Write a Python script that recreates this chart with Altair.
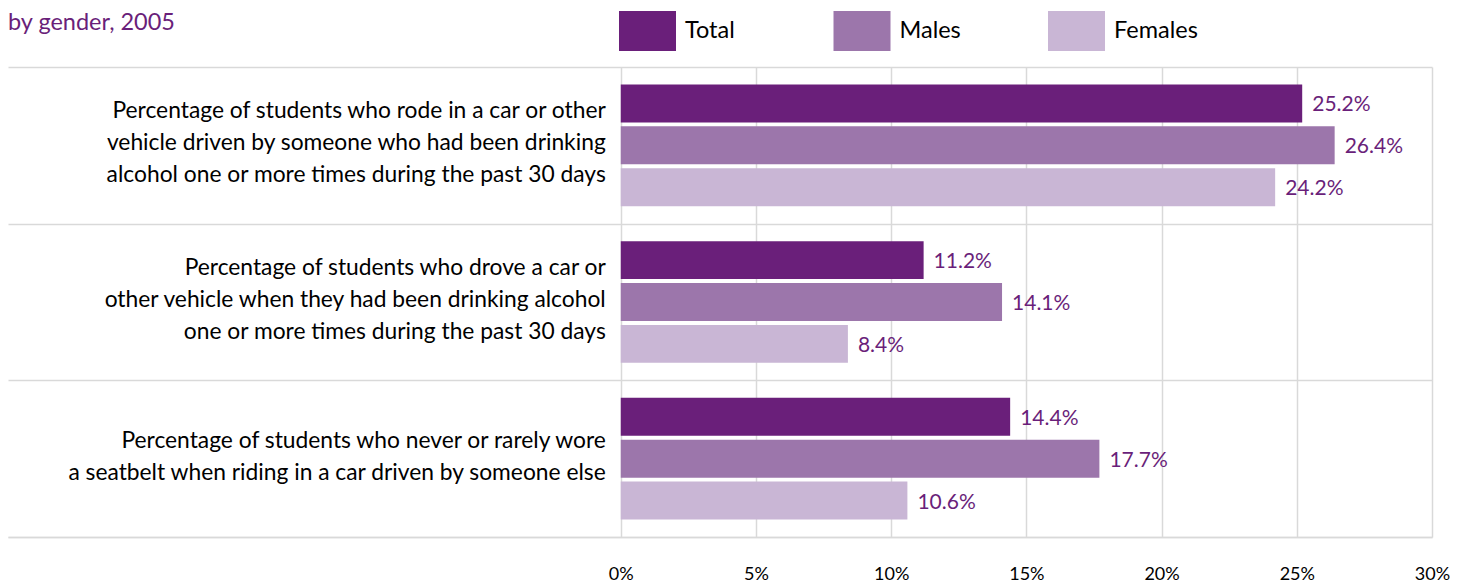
import altair as alt
import pandas as pd

questions = [
    "Percentage of students who rode in a car or other\nvehicle driven by someone who had been drinking\nalcohol one or more times during the past 30 days",
    "Percentage of students who drove a car or\nother vehicle when they had been drinking alcohol\none or more times during the past 30 days",
    "Percentage of students who never or rarely wore\na seatbelt when riding in a car driven by someone else",
]
series = ["Total", "Males", "Females"]
total = [25.2, 11.2, 14.4]
males = [26.4, 14.1, 17.7]
females = [24.2, 8.4, 10.6]
colors = ["#6a1f7a", "#9c76ab", "#c9b6d5"]
tick_values = [0, 5, 10, 15, 20, 25, 30]

PURPLE = "#6a1f7a"
GRID = "#d9d9d9"
FONT = "Lato"
LINE_H = 32

rows = []
for qi, q in enumerate(questions):
    for s, vals in zip(series, [total, males, females]):
        rows.append({"question": q, "series": s, "value": vals[qi]})
df = pd.DataFrame(rows)
qdf = pd.DataFrame({"question": questions,
                    "nlines": [q.count("\n") + 1 for q in questions]})

y_enc = alt.Y(
    "question:N",
    sort=questions,
    scale=alt.Scale(paddingInner=0, paddingOuter=0),
    axis=alt.Axis(title=None, labels=False, ticks=False, domain=False, grid=True,
                  tickBand="extent", gridColor=GRID, gridWidth=1.5),
)
yoff_enc = alt.YOffset(
    "series:N", sort=series,
    scale=alt.Scale(domain=series, paddingInner=0.095, paddingOuter=0.417),
)
x_enc = alt.X(
    "value:Q",
    scale=alt.Scale(domain=[-22.66, 30], nice=False, zero=False),
    axis=alt.Axis(values=tick_values, title=None, grid=True, gridColor=GRID, gridWidth=1.5,
                  domainColor=GRID, domainWidth=1.5, ticks=False, labelPadding=28,
                  labelFontSize=18, labelColor="black", labelFont=FONT,
                  labelExpr="datum.value + '%'", labelFlush=False, labelBound=False),
)

bars = alt.Chart(df).mark_bar().encode(
    x=x_enc,
    y=y_enc,
    yOffset=yoff_enc,
    color=alt.Color(
        "series:N", sort=series,
        scale=alt.Scale(domain=series, range=colors),
        legend=alt.Legend(
            title=None, orient="none", legendX=619.5, legendY=-56,
            direction="horizontal", columns=3,
            symbolType="M-1.425,-1H1.425V1H-1.425Z", symbolSize=1600,
            symbolStrokeWidth=0, symbolOpacity=1,
            labelFontSize=23.5, labelFont=FONT, labelColor="black",
            labelOffset=17.5, columnPadding=63.5, gridAlign="all", padding=0,
        ),
    ),
)

values_text = alt.Chart(df).transform_calculate(
    label="format(datum.value, '.1f') + '%'"
).mark_text(align="left", baseline="middle", dx=10, dy=2, fontSize=21, font=FONT, color=PURPLE).encode(
    x="value:Q",
    y=alt.Y("question:N", sort=questions),
    yOffset=alt.YOffset("series:N", sort=series),
    text="label:N",
)

def q_layer(n):
    return alt.Chart(qdf).transform_filter(
        alt.datum.nlines == n
    ).mark_text(
        align="right", baseline="middle", dx=-15, dy=-(n - 1) * LINE_H / 2 - 2,
        lineBreak="\n", fontSize=22.8, lineHeight=LINE_H, font=FONT, color="black",
    ).encode(
        x=alt.datum(0),
        y=alt.Y("question:N", sort=questions),
        text="question:N",
    )

chart = alt.layer(bars, values_text, q_layer(3), q_layer(2)).properties(
    width=1424, height=470,
    padding={"left": 0, "top": 2, "right": 0, "bottom": 0},
    title=alt.Title("by gender, 2005", anchor="start", fontSize=23.5, color=PURPLE,
                    font=FONT, fontWeight="normal", offset=-23),
).configure_view(stroke=None)

chart.save("out.html", embed_options={"renderer": "svg", "actions": False})
